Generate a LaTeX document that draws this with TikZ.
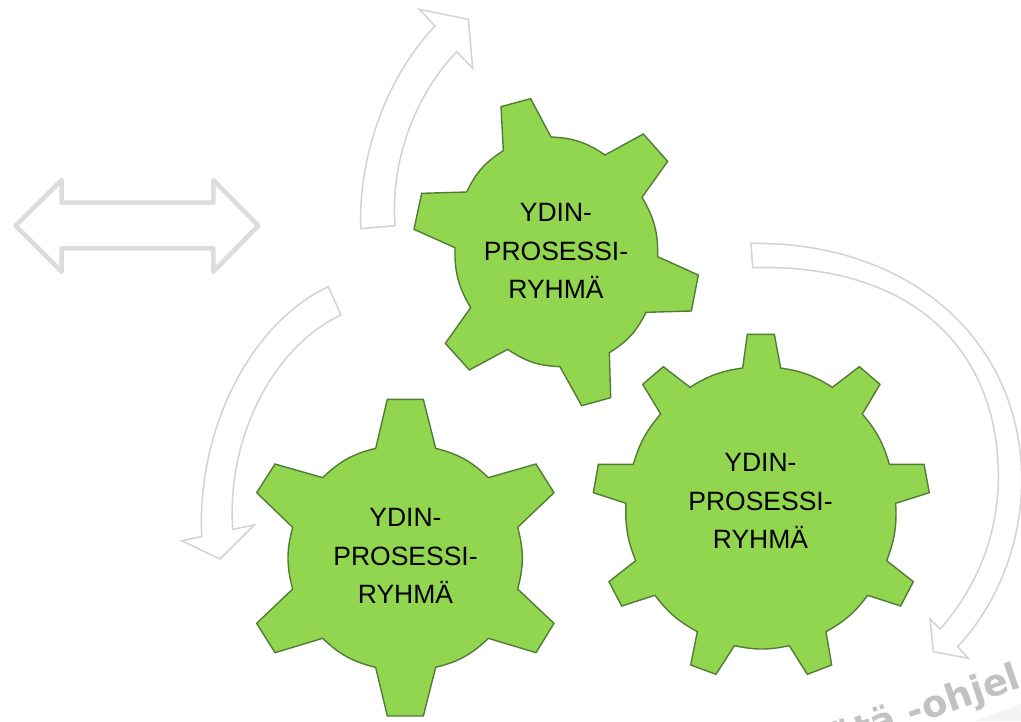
\documentclass[tikz,border=0pt]{standalone}
\usepackage{fontspec}
\setmainfont{Liberation Sans}
\newfontfamily\wmfont{DejaVu Sans Bold}
\tikzset{
  gear/.style={draw=gearline,fill=gearfill,line width=1.4pt,line join=miter},
  flow/.style={draw=flowline,fill=white,line width=1.5pt,line join=miter},
  dbl/.style={draw=dblline,fill=white,line width=4.6pt,line join=round},
  label/.style={align=center,font=\fontsize{26.5}{38.5}\selectfont,text=black,inner sep=0pt},
  wm/.style={font=\wmfont\fontsize{37}{42}\selectfont,text=wmgray,inner sep=0pt,anchor=base west}
}
\definecolor{gearfill}{HTML}{92D650}
\definecolor{gearline}{HTML}{527C35}
\definecolor{flowline}{HTML}{D2D2D2}
\definecolor{dblline}{HTML}{DCDCDC}
\definecolor{wmgray}{HTML}{C2C2C2}
\definecolor{band}{HTML}{F4F4F4}
\begin{document}
\begin{tikzpicture}[x=1pt,y=-1pt]
\useasboundingbox (0,0) rectangle (1021,721);
\clip (0,0) rectangle (1021,721);
\fill[white] (0,0) rectangle (1021,721);
% faint band and watermark
\fill[band] (975,721) -- (1021,704) -- (1021,721) -- cycle;
\node[wm,rotate=19] (mark) at (835,752) {ötä -ohjel};
% double arrow
\begin{scope}[shift={(0,170)},scale=1/3]
\draw[dbl] (47,167)--(185,30)--(185,98)--(640,98)--(640,30)--(775,167)--(640,305)--(640,235)--(185,235)--(185,305)--cycle;
% left arrow
\draw[flow] (985,350) .. controls (750,460) and (590,780) .. (605,1100)
  -- (545,1112) -- (660,1167) -- (763,1065) -- (698,1078)
  .. controls (680,800) and (820,530) .. (1023,435) -- cycle;
\end{scope}
% top arrow
\begin{scope}[shift={(340,0)},scale=1/3]
\draw[flow] (62,686) .. controls (55,450) and (150,220) .. (285,78)
  -- (238,28) -- (385,58) -- (398,205) -- (350,155)
  .. controls (240,270) and (150,460) .. (165,677) -- cycle;
\end{scope}
% right arrow
\begin{scope}[shift={(580,230)},scale=1/3]
\draw[flow] (513,40) .. controls (1000,35) and (1325,340) .. (1325,750)
  .. controls (1325,950) and (1245,1130) .. (1133,1250)
  -- (1165,1285) -- (1060,1265) -- (1050,1167) -- (1080,1197)
  .. controls (1185,1080) and (1255,920) .. (1255,740)
  .. controls (1255,360) and (1000,100) .. (518,113) -- cycle;
\end{scope}
% gear top
\begin{scope}[shift={(340,0)},scale=1/3]
\draw[gear] (490,452)--(483,320)--(572,296)--(633,411) to[bend left=16] (795,465)
 --(910,402)--(983,484)--(906,592) to[bend left=16] (953,770)
 --(1075,825)--(1054,933)--(918,937) to[bend left=16] (808,1058)
 --(812,1193)--(725,1217)--(660,1100) to[bend left=16] (503,1048)
 --(388,1110)--(316,1030)--(392,923) to[bend left=16] (345,743)
 --(222,688)--(245,580)--(380,576) to[bend left=16] (490,452)--cycle;
\end{scope}
% gear right
\begin{scope}[shift={(580,230)},scale=1/3]
\draw[gear] (488,414)--(502,313)--(583,313)--(602,414) to[bend left=12] (757,472)
 --(838,410)--(900,463)--(847,552) to[bend left=12] (928,703)
 --(1032,703)--(1048,788)--(947,820) to[bend left=12] (920,992)
 --(1000,1055)--(962,1128)--(863,1096) to[bend left=12] (738,1205)
 --(755,1305)--(682,1333)--(628,1247) to[bend left=12] (463,1247)
 --(408,1333)--(332,1305)--(352,1205) to[bend left=12] (225,1096)
 --(125,1128)--(87,1055)--(167,992) to[bend left=12] (138,820)
 --(40,788)--(55,703)--(160,703) to[bend left=12] (242,552)
 --(188,463)--(250,410)--(330,472) to[bend left=12] (488,414)--cycle;
\end{scope}
% gear left
\begin{scope}[shift={(240,390)},scale=1/3]
\draw[gear] (407,175)--(442,28)--(550,28)--(587,175) to[bend left=15] (745,263)
 --(888,222)--(942,308)--(833,412) to[bend left=15] (833,597)
 --(942,700)--(888,788)--(745,745) to[bend left=15] (587,832)
 --(550,978)--(442,978)--(407,832) to[bend left=15] (248,745)
 --(105,788)--(50,700)--(158,597) to[bend left=15] (158,412)
 --(50,308)--(105,222)--(248,263) to[bend left=15] (407,175)--cycle;
\end{scope}
\node[label] (g1) at (556,251) {YDIN-\\PROSESSI-\\RYHMÄ};
\node[label] (g2) at (405.5,556) {YDIN-\\PROSESSI-\\RYHMÄ};
\node[label] (g3) at (760.5,501) {YDIN-\\PROSESSI-\\RYHMÄ};
\end{tikzpicture}
\end{document}
